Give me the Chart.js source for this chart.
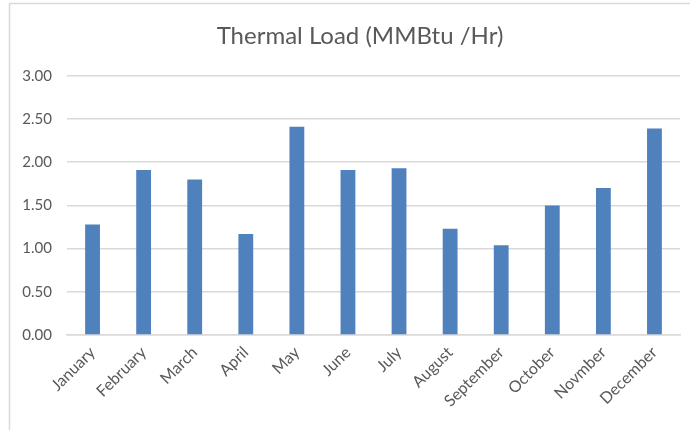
<!DOCTYPE html>
<html>
<head>
<meta charset="utf-8">
<script src="https://cdn.jsdelivr.net/npm/chart.js@4/dist/chart.umd.min.js"></script>
<style>
  html, body { margin: 0; padding: 0; background: #ffffff; }
  #wrap { width: 690px; height: 430px; position: relative; }
</style>
</head>
<body>
<div id="wrap"><canvas id="c" width="690" height="430"></canvas></div>
<script>
// Monthly thermal load, MMBtu per hour
const months = ['January', 'February', 'March', 'April', 'May', 'June',
                'July', 'August', 'September', 'October', 'Novmber', 'December'];
const thermalLoad = [1.28, 1.91, 1.80, 1.17, 2.41, 1.91,
                     1.93, 1.23, 1.04, 1.50, 1.70, 2.39];
const yTicks = [0, 0.5, 1, 1.5, 2, 2.5, 3];

const textGrey = '#595959';
const gridGrey = '#d9d9d9';

// light frame along the top and left edges of the chart box
const framePlugin = {
  id: 'frame',
  beforeDraw(chart) {
    const ctx = chart.ctx;
    ctx.save();
    ctx.strokeStyle = '#d9d9d9';
    ctx.lineWidth = 1.5;
    ctx.beginPath();
    ctx.moveTo(9.5, 430);
    ctx.lineTo(9.5, 3.5);
    ctx.lineTo(690, 3.5);
    ctx.stroke();
    ctx.restore();
  }
};

// the frame runs past the right edge, so centre the title on the frame
const titleShift = {
  id: 'titleShift',
  afterLayout(chart) {
    if (chart.titleBlock) chart.titleBlock.left += 20;
  }
};

new Chart(document.getElementById('c'), {
  type: 'bar',
  data: {
    labels: months,
    datasets: [{
      label: 'Thermal Load',
      data: thermalLoad,
      backgroundColor: '#4f81bd',
      borderWidth: 0,
      barPercentage: 0.29,
      categoryPercentage: 1.0
    }]
  },
  options: {
    responsive: false,
    animation: false,
    layout: { padding: { left: 20, right: 10, top: 10, bottom: 0 } },
    plugins: {
      legend: { display: false },
      tooltip: { enabled: false },
      title: {
        display: true,
        text: 'Thermal Load (MMBtu /Hr)',
        color: textGrey,
        font: { family: 'Lato', size: 24, weight: 'normal' },
        padding: { top: 12, bottom: 25 }
      }
    },
    scales: {
      x: {
        grid: { display: false, drawTicks: false },
        border: { display: true, color: gridGrey, width: 1.5 },
        ticks: {
          color: textGrey,
          font: { family: 'Lato', size: 16 },
          minRotation: 45,
          maxRotation: 45,
          padding: 8,
          autoSkip: false
        },
        afterFit(scale) { scale.height = 95; }
      },
      y: {
        min: 0,
        max: 3,
        afterBuildTicks(scale) { scale.ticks = yTicks.map(v => ({ value: v })); },
        grid: { color: gridGrey, lineWidth: 1.5, drawTicks: false },
        border: { display: false },
        ticks: {
          color: textGrey,
          font: { family: 'Lato', size: 15 },
          padding: 15,
          callback: v => Number(v).toFixed(2)
        },
        afterFit(scale) { scale.width = 47; }
      }
    }
  },
  plugins: [framePlugin, titleShift]
});
</script>
</body>
</html>
